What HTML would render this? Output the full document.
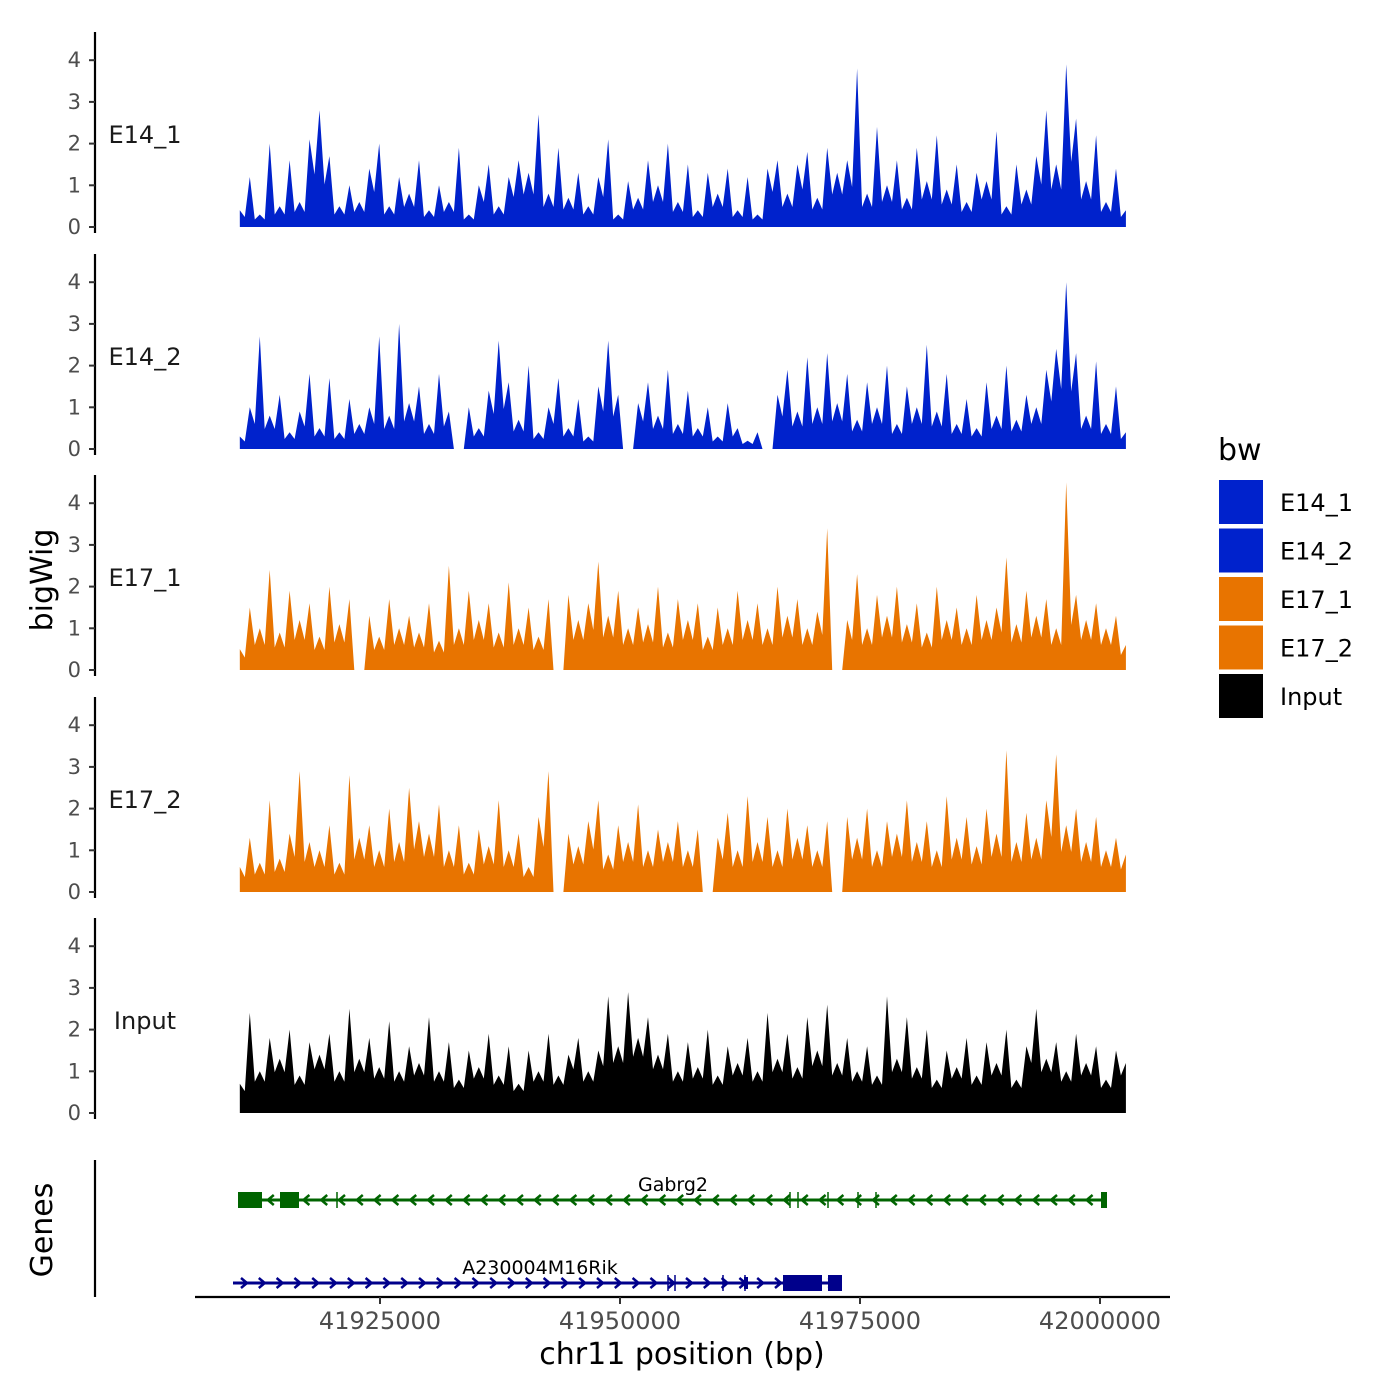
<!DOCTYPE html>
<html><head><meta charset="utf-8"><style>
html,body{margin:0;padding:0;background:#fff}
svg{display:block;font-family:"DejaVu Sans","Liberation Sans",sans-serif}
</style></head><body>
<svg id="chart" width="1400" height="1400" viewBox="0 0 1400 1400">
<rect width="1400" height="1400" fill="#fff"/>
</svg>
<script>
const trackNames = ["E14_1","E14_2","E17_1","E17_2","Input"];
const trackColors = ["#0022cc","#0022cc","#e87400","#e87400","#000000"];
const e14_1 = [0.4,1.2,0.3,2.0,0.5,1.6,0.6,2.1,2.8,1.7,0.5,1.0,0.6,1.4,2.0,0.5,1.2,0.8,1.6,0.4,1.0,0.6,1.9,0.3,1.0,1.5,0.5,1.2,1.6,1.3,2.7,0.8,1.9,0.7,1.3,0.5,1.2,2.1,0.3,1.1,0.7,1.6,1.0,2.0,0.6,1.5,0.4,1.3,0.8,1.4,0.4,1.2,0.3,1.4,1.6,0.8,1.5,1.8,0.7,1.9,1.3,1.6,3.8,0.8,2.4,1.0,1.6,0.7,1.9,1.1,2.2,0.9,1.5,0.6,1.3,1.1,2.3,0.5,1.5,0.9,1.7,2.8,1.5,3.9,2.6,1.1,2.2,0.6,1.4,0.4];
const e14_2 = [0.3,1.0,2.7,0.8,1.3,0.4,0.9,1.8,0.5,1.7,0.4,1.2,0.6,1.0,2.7,0.8,3.0,1.1,1.5,0.6,1.8,0.9,0.0,1.0,0.5,1.4,2.6,1.6,0.7,2.0,0.4,1.0,1.7,0.5,1.2,0.3,1.5,2.6,1.3,0.0,1.1,1.6,0.8,1.9,0.6,1.4,0.5,1.0,0.3,1.1,0.5,0.2,0.4,0.0,1.3,1.9,0.9,2.2,1.0,2.3,1.1,1.8,0.7,1.6,1.0,2.0,0.6,1.5,1.0,2.5,0.9,1.8,0.6,1.2,0.5,1.6,0.8,2.0,0.7,1.3,1.0,1.9,2.4,4.0,2.3,0.8,2.1,0.6,1.5,0.4];
const e17_1 = [0.5,1.5,1.0,2.4,0.9,1.9,1.2,1.6,0.8,2.0,1.1,1.7,0.0,1.3,0.8,1.7,1.0,1.3,0.9,1.6,0.7,2.5,1.0,1.9,1.2,1.6,0.9,2.1,1.0,1.5,0.8,1.7,0.0,1.8,1.2,1.6,2.6,1.3,1.9,1.0,1.5,1.1,2.0,0.9,1.7,1.2,1.6,0.8,1.5,1.0,1.9,1.2,1.6,1.0,2.0,1.3,1.7,1.0,1.4,3.4,0.0,1.2,2.3,1.0,1.8,1.3,2.0,1.1,1.6,0.9,2.0,1.2,1.5,1.0,1.8,1.2,1.5,2.7,1.1,1.9,1.3,1.7,1.0,4.5,1.8,1.2,1.6,1.0,1.3,0.6];
const e17_2 = [0.6,1.3,0.7,2.2,0.8,1.4,2.9,1.2,1.0,1.6,0.7,2.8,1.3,1.6,1.0,2.0,1.2,2.5,1.7,1.4,2.1,1.0,1.6,0.7,1.5,1.1,2.2,1.0,1.4,0.6,1.8,2.9,0.0,1.4,1.1,1.7,2.2,0.9,1.6,1.2,2.1,1.0,1.5,1.2,1.7,1.0,1.5,0.0,1.3,1.9,1.0,2.3,1.2,1.8,1.0,2.0,1.3,1.6,1.0,1.7,0.0,1.8,1.3,2.0,1.0,1.7,1.4,2.2,1.2,1.7,1.0,2.3,1.3,1.8,1.1,2.0,1.4,3.4,1.2,1.9,1.3,2.2,3.3,1.6,2.0,1.2,1.8,1.0,1.3,0.9];
const inputTrack = [0.7,2.4,1.0,1.8,1.3,2.0,0.9,1.7,1.4,1.9,1.0,2.5,1.3,1.8,1.1,2.2,1.0,1.6,1.2,2.3,1.0,1.7,0.8,1.5,1.1,1.9,0.9,1.6,0.7,1.5,1.0,1.9,0.9,1.4,1.8,1.0,1.5,2.8,1.6,2.9,1.8,2.3,1.4,1.9,1.0,1.7,1.1,2.0,0.9,1.6,1.2,1.8,1.0,2.4,1.3,1.9,1.1,2.3,1.5,2.6,1.2,1.8,1.0,1.6,0.9,2.8,1.3,2.3,1.1,2.0,0.8,1.5,1.1,1.8,0.9,1.7,1.2,2.0,0.8,1.6,2.5,1.3,1.7,1.0,1.9,1.2,1.6,0.8,1.5,1.2];
const yTicks = [0,1,2,3,4];
const xTicks = [41925000,41950000,41975000,42000000];
const startPos = 41910400, endPos = 42002700;

const svg = document.getElementById('chart');
const NS = "http://www.w3.org/2000/svg";
function mk(tag, attrs, parent){const e=document.createElementNS(NS,tag);for(const k in attrs)e.setAttribute(k,attrs[k]);(parent||svg).appendChild(e);return e;}
function xScale(p){return 620+(p-41950000)*240/25000;}
const zeroYs=[227,449,670,892,1113];
const unit=41.7;
const series=[e14_1,e14_2,e17_1,e17_2,inputTrack];

series.forEach((vals,t)=>{
  const g=mk('g',{});
  
  
  const z=zeroYs[t];
  const yS=v=>z-v*unit;
  const x0=xScale(startPos), x1=xScale(endPos);
  const step=(x1-x0)/(vals.length-1);
  const base=t===4?0.75:0.6;
  let d=`M${x0},${z}`;
  vals.forEach((v,i)=>{
    const x=x0+i*step;
    d+=` L${x.toFixed(1)},${yS(v).toFixed(1)}`;
    if(i<vals.length-1){
      const vv=Math.min(v,vals[i+1])*base;
      d+=` L${(x+step*0.5).toFixed(1)},${yS(vv).toFixed(1)}`;
    }
  });
  d+=` L${x1},${z} Z`;
  const area=mk('path',{d:d,fill:trackColors[t]},g);
  
  
  const ax=mk('line',{x1:95,x2:95,y1:z-195,y2:z+6,stroke:'#000','stroke-width':2.2},g);
  
  
  yTicks.forEach(v=>{
    mk('line',{x1:89,x2:95,y1:yS(v),y2:yS(v),stroke:'#333','stroke-width':2},g);
    const tx=mk('text',{x:81,y:yS(v)+7,'text-anchor':'end','font-size':21,fill:'#4d4d4d'},g);
    tx.textContent=v;
    
    
  });
  const lb=mk('text',{x:145,y:z-84,'text-anchor':'middle','font-size':24,fill:'#1a1a1a'},g);
  lb.textContent=trackNames[t];
  
  
});

const yt=mk('text',{x:0,y:0,transform:'translate(52,580) rotate(-90)','text-anchor':'middle','font-size':30,fill:'#000'});
yt.textContent='bigWig';


const gt=mk('text',{x:0,y:0,transform:'translate(52,1230) rotate(-90)','text-anchor':'middle','font-size':30,fill:'#000'});
gt.textContent='Genes';


const gl=mk('line',{x1:95,x2:95,y1:1160,y2:1297,stroke:'#000','stroke-width':2.2});



const xl=mk('line',{x1:195,x2:1170,y1:1297,y2:1297,stroke:'#000','stroke-width':2.2});


xTicks.forEach(p=>{
  mk('line',{x1:xScale(p),x2:xScale(p),y1:1297,y2:1304,stroke:'#333','stroke-width':2});
  const tx=mk('text',{x:xScale(p),y:1329,'text-anchor':'middle','font-size':24,fill:'#4d4d4d'});
  tx.textContent=p;
  
  
});
const xt=mk('text',{x:682,y:1364,'text-anchor':'middle','font-size':30,fill:'#000'});
xt.textContent='chr11 position (bp)';



function gene(name,y,xa,xb,col,dir,blocks,ticks,lx,ly){
  const g=mk('g',{});
  
  
  mk('line',{x1:xa,x2:xb,y1:y,y2:y,stroke:col,'stroke-width':3},g);
  for(let x=xa+12;x<xb-6;x+=17.8){
    const p=dir<0?`M${x+4},${y-5} L${x-2},${y} L${x+4},${y+5}`:`M${x-4},${y-5} L${x+2},${y} L${x-4},${y+5}`;
    mk('path',{d:p,stroke:col,'stroke-width':2.5,fill:'none'},g);
  }
  blocks.forEach(b=>mk('rect',{x:b[0],y:y-b[2]/2,width:b[1]-b[0],height:b[2],fill:col},g));
  ticks.forEach(x=>mk('line',{x1:x,x2:x,y1:y-8,y2:y+8,stroke:col,'stroke-width':1.5},g));
  const t=mk('text',{x:lx,y:ly,'text-anchor':'middle','font-size':19,fill:'#000'},g);
  t.textContent=name;
}
gene('Gabrg2',1200,240,1105,'#006400',-1,[[238,262,16],[280,299,16],[1101,1107,16]],[337,790,798,828,858,876],673,1191);
gene('A230004M16Rik',1283,233,840,'#00008b',1,[[783,822,16],[828,842,16],[744,748,12]],[668,675,723,745],540,1274);

const lg=mk('g',{});


const lt=mk('text',{x:1218,y:460,'font-size':30,fill:'#000'},lg);
lt.textContent='bw';
const legNames=["E14_1","E14_2","E17_1","E17_2","Input"];
const legCols=["#0022cc","#0022cc","#e87400","#e87400","#000000"];
legNames.forEach((n,i)=>{
  const e=mk('g',{},lg);
  
  
  mk('rect',{x:1219,y:480+i*48.5,width:44,height:44,fill:legCols[i]},e);
  const t=mk('text',{x:1280,y:511+i*48.5,'font-size':24,fill:'#000'},e);
  t.textContent=n;
});
</script>
</body></html>
